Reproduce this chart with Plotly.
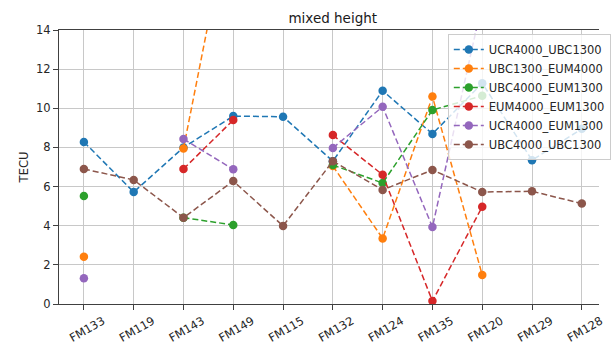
import plotly.graph_objects as go

# Receiver sites along the x axis
sites = ["FM133", "FM119", "FM143", "FM149", "FM115", "FM132",
         "FM124", "FM135", "FM120", "FM129", "FM128"]

# TECU per site for each model pair (None = no value)
ucr4000_ubc1300 = [8.28, 5.72, 8.0, 9.6, 9.57, 7.3, 10.9, 8.69, 11.28, 7.35, 8.95]
ubc1300_eum4000 = [2.42, None, 7.94, 20.8, None, 7.05, 3.35, 10.6, 1.48, None, None]
ubc4000_eum1300 = [5.52, None, 4.41, 4.04, None, 7.1, 6.18, 9.91, 10.64, None, None]
eum4000_eum1300 = [None, None, 6.9, 9.4, None, 8.63, 6.6, 0.15, 4.97, None, None]
ucr4000_eum1300 = [1.31, None, 8.43, 6.88, None, 7.97, 10.08, 3.93, 15.4, None, None]
ubc4000_ubc1300 = [6.9, 6.34, 4.41, 6.28, 3.99, 7.3, 5.83, 6.85, 5.72, 5.76, 5.13]

series = [
    ("UCR4000_UBC1300", ucr4000_ubc1300, "#1f77b4"),
    ("UBC1300_EUM4000", ubc1300_eum4000, "#ff7f0e"),
    ("UBC4000_EUM1300", ubc4000_eum1300, "#2ca02c"),
    ("EUM4000_EUM1300", eum4000_eum1300, "#d62728"),
    ("UCR4000_EUM1300", ucr4000_eum1300, "#9467bd"),
    ("UBC4000_UBC1300", ubc4000_ubc1300, "#8c564b"),
]

font_family = "DejaVu Sans"
text_color = "#262626"

fig = go.Figure()
for name, values, color in series:
    fig.add_trace(go.Scatter(
        x=sites, y=values, name=name, mode="lines+markers",
        line=dict(color=color, width=1.5, dash="6px,3px"),
        marker=dict(color=color, size=8.5),
        connectgaps=False,
    ))

fig.update_layout(
    width=611, height=348,
    margin=dict(l=59, r=0, t=30, b=44),
    paper_bgcolor="white", plot_bgcolor="white",
    font=dict(family=font_family, size=11.5, color=text_color),
    title=dict(text="mixed height", x=0.507, xref="paper",
               y=1 - 18 / 348, yref="container", yanchor="middle",
               xanchor="center", font=dict(size=13.5, color="#1a1a1a")),
    legend=dict(x=0.72, y=0.985, xanchor="left", yanchor="top",
                bgcolor="rgba(255,255,255,0.8)", bordercolor="#cccccc",
                borderwidth=1, font=dict(size=11.5, color=text_color)),
    showlegend=True,
)

fig.update_xaxes(
    range=[-0.5, 10.345],
    showgrid=True, gridcolor="#c8c8c8", gridwidth=1,
    showline=True, linecolor="#404040", linewidth=1.2, mirror=True,
    ticks="outside", ticklen=5, tickcolor="#404040",
    tickangle=-30, ticklabelshift=19,
    zeroline=False,
)
fig.update_yaxes(
    range=[0, 14], tickvals=[0, 2, 4, 6, 8, 10, 12, 14],
    showgrid=True, gridcolor="#c8c8c8", gridwidth=1,
    showline=True, linecolor="#404040", linewidth=1.2,
    ticks="outside", ticklen=5, tickcolor="#404040",
    title=dict(text="TECU", standoff=4, font=dict(size=11.5)),
    zeroline=False,
)

fig.write_html("out.html")
